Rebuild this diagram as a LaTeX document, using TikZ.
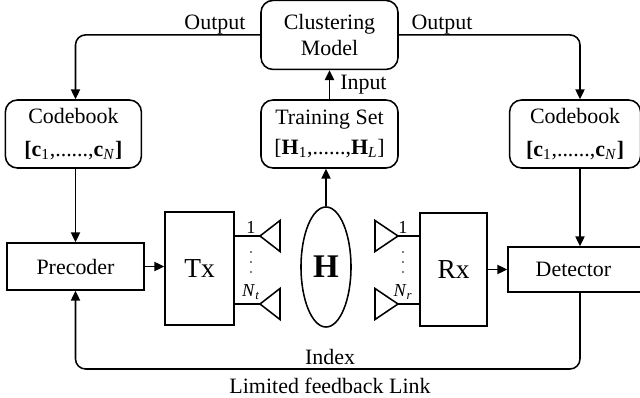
\documentclass[tikz,border=0pt]{standalone}
\usepackage{fontspec}
\setmainfont{Liberation Serif}
\usepackage{tikz}
\usetikzlibrary{positioning, shapes.geometric, arrows.meta, calc}
\newcommand{\txt}{\fontsize{15.6}{19}\selectfont}
\newcommand{\bigtxt}{\fontsize{19.5}{22}\selectfont}
\newcommand{\anttxt}{\fontsize{13}{15}\selectfont}

\begin{document}
\begin{tikzpicture}[x=0.025cm, y=0.025cm, line width=1.1pt, >={Triangle[length=7pt,width=6.5pt]}]
			\tikzstyle{rbox}=[draw, rounded corners=0.3cm, align=center, font=\txt, inner sep=0pt, minimum width=3.425cm, minimum height=1.7cm]
			\tikzstyle{sbox}=[draw, align=center, font=\txt, inner sep=0pt]
			\tikzstyle{lbl}=[font=\txt, inner sep=0pt]
			\useasboundingbox (0,0) rectangle (640,397);
			
			\node[rbox](ts) at (329.5,263) {Training Set\\[2pt][\textbf{H}\textsubscript{1},......,\textbf{H}\textsubscript{\textit{L}}]};
			\node[rbox, minimum height=1.725cm, above=0.725cm of ts](cm) {Clustering\\Model};
			\node[rbox, minimum width=3.4cm, left=2.95cm of ts](cb1) {Codebook\\[5pt]\textbf{[c}\textsubscript{1},......,\textbf{c}\textsubscript{\textit{N}}\textbf{]}};
			\node[rbox, minimum width=3.275cm, right=2.75cm of ts](cb2) {Codebook\\[5pt]\textbf{[c}\textsubscript{1},......,\textbf{c}\textsubscript{\textit{N}}\textbf{]}};
			
			\node[sbox, minimum width=3.425cm, minimum height=1.175cm](pc) at (75.5,130.5) {Precoder};
			\node[sbox, font=\bigtxt, minimum width=1.725cm, minimum height=2.825cm](tx) at (199.5,128.5) {Tx};
			\node[draw, ellipse, inner sep=0pt, minimum width=1.25cm, minimum height=3cm, font=\fontsize{23.5}{26}\selectfont\bfseries](h) at (326,130) {H};
			\node[sbox, font=\bigtxt, minimum width=1.675cm, minimum height=2.825cm](rx) at (453.5,127.5) {Rx};
			\node[sbox, minimum width=3.6cm, minimum height=1.125cm](dt) at (580,127.5) {Detector\hspace{0.325cm}};
			
			%% antennas on both sides of the channel
			\foreach \ya in {161,93} {
				\draw (tx.east |- 0,\ya) -- (260,\ya);
				\draw (260,\ya) -- (280,\ya+15.5) -- (280,\ya-15.5) -- cycle;
				\draw (rx.west |- 0,\ya) -- (398,\ya);
				\draw (398,\ya) -- (375,\ya+15.5) -- (375,\ya-15.5) -- cycle;
				}
			\foreach \x in {251,403} \foreach \yd in {145,135,125} \fill (\x,\yd) circle (0.9);
			\node[font=\anttxt, inner sep=0pt](a1) at (251,170) {1};
			\node[font=\anttxt, inner sep=0pt](a2) at (251,105) {\textit{N}\textsubscript{\textit{t}}};
			\node[font=\anttxt, inner sep=0pt](b1) at (403,170) {1};
			\node[font=\anttxt, inner sep=0pt](b2) at (403,105) {\textit{N}\textsubscript{\textit{r}}};
			
			\draw[->] (ts.north) -- (cm.south) node[lbl, midway, right=0.25cm] {Input};
			\draw[->, rounded corners=0.25cm] (cm.west) -| (cb1.north -| pc.north);
			\draw[->, rounded corners=0.25cm] (cm.east) -| (cb2.north -| dt.north);
			\node[lbl, above left=0cm and 0.35cm of cm.west](o1) {Output};
			\node[lbl, above right=0cm and 0.3cm of cm.east](o2) {Output};
			
			\draw[->] (h.north) -- (h.north |- ts.south);
			\draw[->] (cb1.south -| pc.north) -- (pc.north);
			\draw[->] (cb2.south -| dt.north) -- (dt.north);
			\draw[->] (pc.east) -- (pc.east -| tx.west);
			\draw[->] (rx.east |- dt.west) -- (dt.west);
			
			\coordinate (fb) at (330,28);
			\draw[->, rounded corners=0.25cm] (dt.south) |- (fb) -| (pc.south);
			\node[lbl, above=0.1cm of fb](ix) {Index};
			\node[lbl, below=0.2cm of fb](lf) {Limited feedback Link};
			
			\end{tikzpicture}
\end{document}
